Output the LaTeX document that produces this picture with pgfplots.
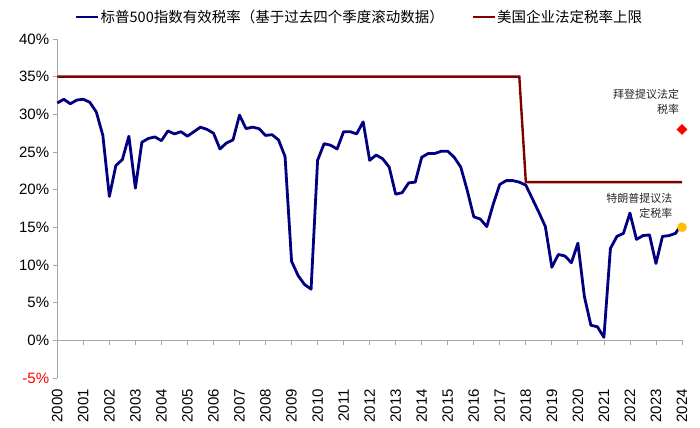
\documentclass[border=0pt]{standalone}
\usepackage{pgfplots}
\pgfplotsset{compat=1.18}
\usepackage{pgfplotstable}
\usepackage{fontspec}
\setmainfont{Liberation Sans}
\newfontfamily\cjk{Noto Sans CJK SC}
\definecolor{navyc}{HTML}{000080}
\definecolor{darkredc}{HTML}{800000}
\definecolor{axisgray}{HTML}{A6A6A6}
\definecolor{yellowc}{HTML}{FFC000}
\pgfplotstableread{
k v
0 31.5
1 32.0
2 31.4
3 31.9
4 32.0
5 31.6
6 30.3
7 27.2
8 19.1
9 23.2
10 24.0
11 27.1
12 20.2
13 26.3
14 26.8
15 27.0
16 26.5
17 27.8
18 27.4
19 27.7
20 27.1
21 27.7
22 28.3
23 28.0
24 27.5
25 25.4
26 26.2
27 26.6
28 29.9
29 28.1
30 28.3
31 28.1
32 27.2
33 27.3
34 26.6
35 24.4
36 10.5
37 8.6
38 7.4
39 6.8
40 23.9
41 26.1
42 25.9
43 25.4
44 27.7
45 27.7
46 27.4
47 29.0
48 23.9
49 24.6
50 24.1
51 23.0
52 19.4
53 19.6
54 20.9
55 21.0
56 24.3
57 24.8
58 24.8
59 25.1
60 25.1
61 24.3
62 23.0
63 19.9
64 16.4
65 16.1
66 15.1
67 18.1
68 20.7
69 21.2
70 21.2
71 21.0
72 20.6
73 18.8
74 17.0
75 15.1
76 9.7
77 11.4
78 11.2
79 10.3
80 12.9
81 5.8
82 2.0
83 1.8
84 0.4
85 12.2
86 13.8
87 14.2
88 16.9
89 13.4
90 13.9
91 14.0
92 10.2
93 13.8
94 13.9
95 14.2
96 15.5
}\bluedata
\begin{document}
\begin{tikzpicture}
\useasboundingbox (0,0) rectangle (700bp,428bp);
\begin{axis}[
  at={(57.3bp,50bp)}, anchor=south west,
  scale only axis, width=624.7bp, height=339bp,
  xmin=0, xmax=24, ymin=-5, ymax=40,
  separate axis lines,
  axis x line*=bottom, axis y line*=left,
  x axis line style={draw=none},
  y axis line style={draw=axisgray, line width=0.8bp, -},
  xtick={0,1,...,24},
  xticklabels={2000,2001,2002,2003,2004,2005,2006,2007,2008,2009,2010,2011,2012,2013,2014,2015,2016,2017,2018,2019,2020,2021,2022,2023,2024},
  xtick style={draw=none},
  ytick={-5,0,5,10,15,20,25,30,35,40},
  yticklabels={{\textcolor{red}{-5\%}},0\%,5\%,10\%,15\%,20\%,25\%,30\%,35\%,40\%},
  ytick style={draw=axisgray, line width=0.8bp},
  tick align=outside, major tick length=4bp,
  xticklabel style={rotate=90, anchor=east, inner sep=0pt, font=\fontsize{15bp}{18bp}\selectfont},
  xticklabel shift=7bp,
  yticklabel style={anchor=east, inner sep=0pt, font=\fontsize{15bp}{18bp}\selectfont},
  yticklabel shift=4bp,
  clip=false,
  legend columns=2,
  legend style={at={(axis description cs:0.483,1.065)}, anchor=center, draw=none, fill=none,
    font=\cjk\fontsize{14.5bp}{17bp}\selectfont,
    /tikz/every even column/.append style={column sep=27bp},
    nodes={inner xsep=1bp, inner ysep=0bp}},
  legend image code/.code={\draw[#1] (0bp,0bp) -- (22bp,0bp);},
]
\draw[axisgray, line width=0.8bp] (axis cs:0,0) -- (axis cs:24,0);
\pgfplotsinvokeforeach{0,1,...,24}{\draw[axisgray, line width=0.8bp] (axis cs:#1,0) -- (axis cs:#1,-0.66);}
\addplot[navyc, line width=2.8bp, line join=round] table[x expr=\thisrow{k}/4, y=v] {\bluedata};
\addlegendentry{标普500指数有效税率（基于过去四个季度滚动数据）}
\addplot[darkredc, line width=2.4bp] coordinates {(0,35) (17.75,35) (18,21) (24,21)};
\addlegendentry{美国企业法定税率上限}
\addplot[only marks, mark=square*, mark size=3.6bp, mark options={rotate=45}, color=red, forget plot] coordinates {(24,28)};
\addplot[only marks, mark=*, mark size=4.6bp, color=yellowc, forget plot] coordinates {(24,15)};
\node[anchor=north east, align=right, inner sep=0pt, text=black!85, font=\cjk\fontsize{11bp}{15bp}\selectfont] at (axis cs:23.9,33.3) {拜登提议法定\\税率};
\node[anchor=north east, align=right, inner sep=0pt, text=black!85, font=\cjk\fontsize{11bp}{15bp}\selectfont] at (axis cs:23.64,19.5) {特朗普提议法\\定税率};
\end{axis}
\end{tikzpicture}
\end{document}
